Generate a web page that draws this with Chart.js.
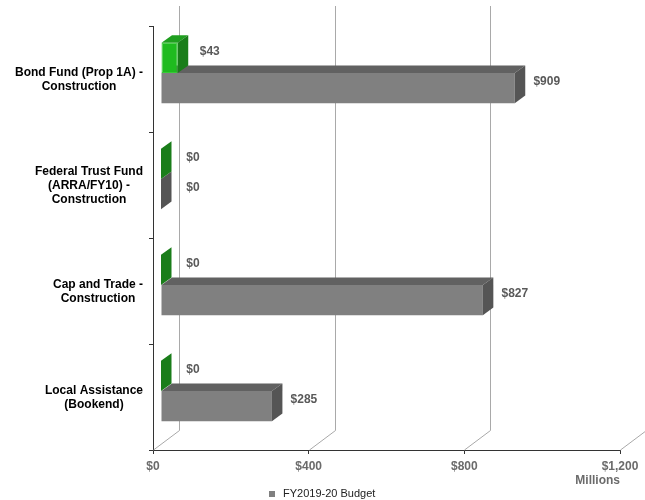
<!DOCTYPE html>
<html>
<head>
<meta charset="utf-8">
<script src="https://cdn.jsdelivr.net/npm/chart.js@4.4.1/dist/chart.umd.min.js"></script>
<style>
  html, body { margin: 0; padding: 0; background: #fff; }
  #wrap { width: 645px; height: 500px; }
</style>
</head>
<body>
<div id="wrap"><canvas id="budget" width="645" height="500"></canvas></div>
<script>
// ===== data =====
const categories = [
  ["Bond Fund (Prop 1A) -", "Construction"],
  ["Federal Trust Fund", "(ARRA/FY10) -", "Construction"],
  ["Cap and Trade -", "Construction"],
  ["Local Assistance", "(Bookend)"],
];
const priorYear = [43, 0, 0, 0];
const budget2019 = [909, 0, 827, 285];
const valueTicks = [0, 400, 800, 1200];

const FONT = "'Liberation Sans', Arial, sans-serif";
const DEPTH = { dx: 10.5, dy: 7.6 };        // bar extrusion
const WALL = { dx: 26, dy: 19.5, top: 6 };  // back wall offset
const BAR_SHIFT = { dx: 8, dy: -6 };        // bars sit part way into the box

// top / side faces, indexed like the datasets
const faceColors = [
  { top: "#1f9f1f", side: "#1a7d1a" },
  { top: "#616161", side: "#555555" },
];

const money = v => "$" + v.toLocaleString("en-US");

function fillQuad(ctx, pts, color) {
  ctx.fillStyle = color;
  ctx.beginPath();
  ctx.moveTo(pts[0][0], pts[0][1]);
  for (let i = 1; i < pts.length; i++) ctx.lineTo(pts[i][0], pts[i][1]);
  ctx.closePath();
  ctx.fill();
}

const pseudo3d = {
  id: "pseudo3d",
  beforeDatasetsDraw(chart) {
    const { ctx, chartArea, scales: { x } } = chart;
    // back wall gridlines + floor diagonals
    ctx.save();
    ctx.strokeStyle = "#a9a9a9";
    ctx.lineWidth = 1;
    valueTicks.forEach(v => {
      const px = Math.round(x.getPixelForValue(v)) + 0.5;
      ctx.beginPath();
      ctx.moveTo(px, chartArea.bottom);
      ctx.lineTo(px + WALL.dx, chartArea.bottom - WALL.dy);
      ctx.lineTo(px + WALL.dx, WALL.top);
      ctx.stroke();
    });
    ctx.restore();

    ctx.save();
    ctx.translate(BAR_SHIFT.dx, BAR_SHIFT.dy);
  },
  afterDatasetDraw(chart, args) {
    const { ctx } = chart;
    const c = faceColors[args.index];
    const { dx, dy } = DEPTH;
    args.meta.data.forEach(el => {
      const { x, y, base, height } = el.getProps(["x", "y", "base", "height"], true);
      const t = y - height / 2, b = y + height / 2;
      fillQuad(ctx, [[base, t], [base + dx, t - dy], [x + dx, t - dy], [x, t]], c.top);
      fillQuad(ctx, [[x, t], [x + dx, t - dy], [x + dx, b - dy], [x, b]], c.side);
    });
  },
  afterDatasetsDraw(chart) {
    const { ctx } = chart;
    // value labels
    ctx.font = "bold 12px " + FONT;
    ctx.fillStyle = "#595959";
    ctx.textAlign = "center";
    ctx.textBaseline = "middle";
    chart.data.datasets.forEach((ds, i) => {
      chart.getDatasetMeta(i).data.forEach((el, j) => {
        ctx.fillText(money(ds.data[j]), el.x + 32, el.y - 6);
      });
    });
    ctx.restore();

    // category labels: block right-aligned to the axis, lines centred in the block
    const yScale = chart.scales.y;
    ctx.save();
    ctx.font = "bold 12px " + FONT;
    ctx.fillStyle = "#000";
    ctx.textAlign = "center";
    ctx.textBaseline = "middle";
    const right = chart.chartArea.left - 10;
    const lh = 14;
    chart.data.labels.forEach((lines, i) => {
      const cy = yScale.getPixelForTick(i);
      const w = Math.max(...lines.map(s => ctx.measureText(s).width));
      const cx = right - w / 2;
      lines.forEach((s, k) => {
        ctx.fillText(s, cx, cy + (k - (lines.length - 1) / 2) * lh + 1);
      });
    });
    ctx.restore();
  },
  afterDraw(chart) {
    // legend for the budget series
    const { ctx } = chart;
    const ds = chart.data.datasets[1];
    ctx.save();
    ctx.font = "11px " + FONT;
    const tw = ctx.measureText(ds.label).width;
    const boxW = 6, gap = 8;
    const x0 = Math.round((chart.width - (boxW + gap + tw)) / 2);
    const cy = 494;
    ctx.fillStyle = ds.backgroundColor;
    ctx.fillRect(x0, cy - 3, boxW, boxW);
    ctx.fillStyle = "#222";
    ctx.textAlign = "left";
    ctx.textBaseline = "middle";
    ctx.fillText(ds.label, x0 + boxW + gap, cy);
    ctx.restore();
  },
};

new Chart(document.getElementById("budget"), {
  type: "bar",
  data: {
    labels: categories,
    datasets: [
      {
        label: "FY2018-19",
        data: priorYear,
        backgroundColor: "#1fbb1f",
        borderColor: "#36cc36",
        borderWidth: c => (c.raw > 0 ? 1 : 0),
        borderSkipped: false,
        clip: false,
      },
      {
        label: "FY2019-20 Budget",
        data: budget2019,
        backgroundColor: "#808080",
        borderWidth: 0,
        clip: false,
      },
    ],
  },
  options: {
    indexAxis: "y",
    responsive: false,
    animation: false,
    devicePixelRatio: 1,
    layout: { padding: { top: 26, right: 25, left: 0, bottom: 0 } },
    datasets: { bar: { categoryPercentage: 0.57, barPercentage: 1.0 } },
    plugins: {
      legend: { display: false },
      tooltip: { enabled: false },
    },
    scales: {
      x: {
        min: 0,
        max: 1200,
        afterBuildTicks: s => { s.ticks = valueTicks.map(v => ({ value: v })); },
        afterFit: s => { s.height = s.chart.height - 450; },
        grid: { drawOnChartArea: false, drawTicks: true, tickLength: 4, color: "#333" },
        border: { color: "#333" },
        ticks: {
          padding: 5,
          color: "#6b6b6b",
          font: { family: FONT, size: 12, weight: "bold" },
          callback: v => money(v),
        },
        title: {
          display: true,
          text: "Millions",
          align: "end",
          color: "#6b6b6b",
          font: { family: FONT, size: 12, weight: "bold" },
          padding: { top: 0, bottom: 12 },
        },
      },
      y: {
        afterFit: s => { s.width = 153; },
        grid: { offset: true, drawOnChartArea: false, drawTicks: true, tickLength: 4, color: "#333" },
        border: { color: "#333" },
        ticks: { display: false },
      },
    },
  },
  plugins: [pseudo3d],
});
</script>
</body>
</html>
